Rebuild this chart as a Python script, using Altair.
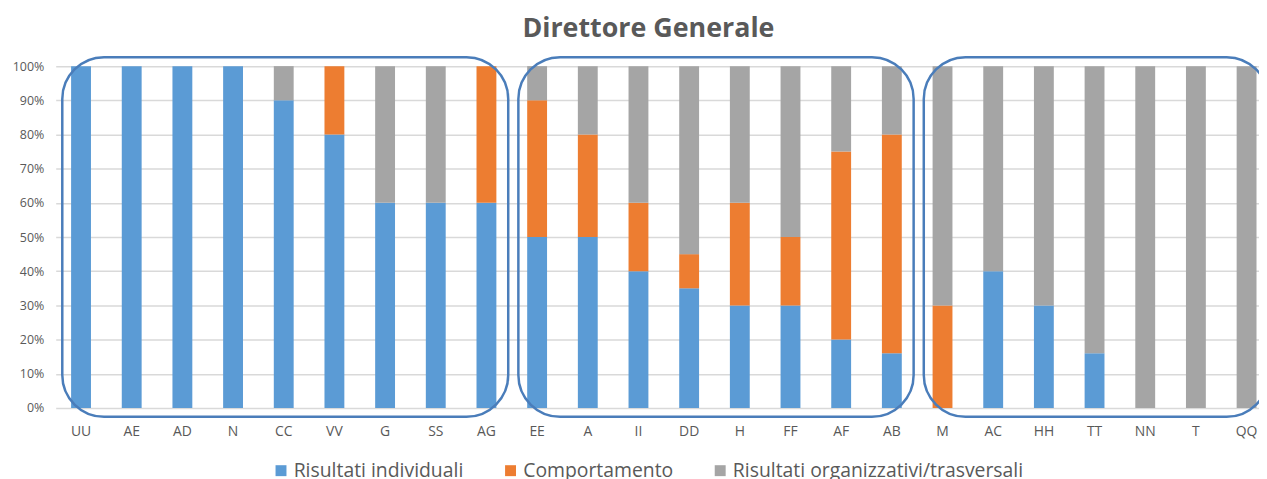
import altair as alt
import pandas as pd

categories = ["UU", "AE", "AD", "N", "CC", "VV", "G", "SS", "AG",
              "EE", "A", "II", "DD", "H", "FF", "AF", "AB",
              "M", "AC", "HH", "TT", "NN", "T", "QQ"]
individuali = [100, 100, 100, 100, 90, 80, 60, 60, 60,
               50, 50, 40, 35, 30, 30, 20, 16,
               0, 40, 30, 16, 0, 0, 0]
comportamento = [0, 0, 0, 0, 0, 20, 0, 0, 40,
                 40, 30, 20, 10, 30, 20, 55, 64,
                 30, 0, 0, 0, 0, 0, 0]
organizzativi = [0, 0, 0, 0, 10, 0, 40, 40, 0,
                 10, 20, 40, 55, 40, 50, 25, 20,
                 70, 60, 70, 84, 100, 100, 100]
y_ticks = [0, 10, 20, 30, 40, 50, 60, 70, 80, 90, 100]
series_names = ["Risultati individuali", "Comportamento",
                "Risultati organizzativi/trasversali"]
series_colors = ["#5b9bd5", "#ed7d31", "#a5a5a5"]
group_first = [0, 9, 17]
group_last = [8, 16, 23]

rows = []
for i, c in enumerate(categories):
    for k, (name, vals) in enumerate(zip(series_names, [individuali, comportamento, organizzativi])):
        rows.append({"cat": c, "serie": name, "k": k, "v": vals[i]})
df = pd.DataFrame(rows)

boxes = pd.DataFrame({
    "x0": [f - 0.37 for f in group_first],
    "x1": [l + 0.43 for l in group_last],
    "y0": [-2.6] * 3,
    "y1": [102.6] * 3,
})

FONT = "Open Sans"
GRAY = "#595959"
RANGE = [0, 1224]

bars = alt.Chart(df).mark_bar().encode(
    x=alt.X("cat:N", sort=categories,
            scale=alt.Scale(range=RANGE, paddingInner=0.608, paddingOuter=0.304),
            axis=alt.Axis(title=None, labelAngle=0, labelFontSize=14, labelColor=GRAY,
                          labelPadding=17, ticks=False, domain=False, labelFont=FONT)),
    y=alt.Y("v:Q", stack="zero", scale=alt.Scale(domain=[0, 100], nice=False),
            axis=alt.Axis(values=y_ticks, labelExpr="datum.value + '%'", title=None,
                          domain=False, ticks=False, gridColor="#d9d9d9", gridWidth=1.5,
                          labelPadding=12, labelFontSize=12.5, labelColor=GRAY,
                          labelFont=FONT, labelOverlap=False)),
    color=alt.Color("serie:N", scale=alt.Scale(domain=series_names, range=series_colors),
                    legend=alt.Legend(orient="none", legendX=217, legendY=397,
                                      direction="horizontal", title=None,
                                      labelFontSize=19.5, labelFont=FONT, labelColor=GRAY,
                                      symbolType="square", symbolSize=121,
                                      symbolStrokeWidth=0, columnPadding=37,
                                      labelLimit=500, padding=0, labelOffset=3)),
    order=alt.Order("k:Q", sort="ascending"),
)

box = alt.Chart(boxes).mark_rect(cornerRadius=42, fillOpacity=0, stroke="#4a7dba",
                                 strokeWidth=2.5).encode(
    x=alt.X("x0:Q", scale=alt.Scale(domain=[-0.5, 23.5], range=RANGE, nice=False, zero=False),
            axis=None),
    x2="x1:Q",
    y=alt.Y("y0:Q", scale=alt.Scale(domain=[0, 100], nice=False, zero=False), axis=None),
    y2="y1:Q",
)

chart = alt.layer(bars, box).resolve_scale(x="independent", y="independent").properties(
    width=1211, height=344,
    autosize=alt.AutoSizeParams(type="none"),
    padding={"left": 48, "top": 57, "right": 0, "bottom": 70},
    title=alt.Title("Direttore Generale", fontSize=27, font=FONT, fontWeight="bold",
                    color=GRAY, anchor="middle", offset=13, dx=-9),
).configure_view(stroke=None)

chart.save("out.html", embed_options={"renderer": "svg", "actions": False})
